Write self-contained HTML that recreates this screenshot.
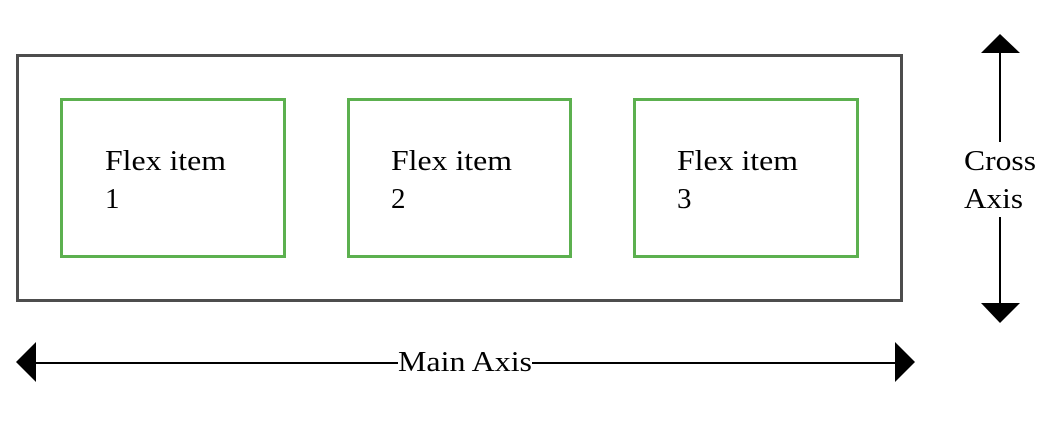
<!DOCTYPE html>
<html><head><style>
body{margin:0;background:#fff;}
svg text{font-family:"Liberation Serif",serif;font-size:29px;fill:#000;}
</style></head><body>
<svg width="1056" height="426" xmlns="http://www.w3.org/2000/svg">
<rect x="17.5" y="55.5" width="884" height="245" fill="none" stroke="#4d4d4d" stroke-width="3"/>
<g fill="none" stroke="#5cb04f" stroke-width="3">
<rect x="61.5" y="99.5" width="223" height="157"/>
<rect x="348.5" y="99.5" width="222" height="157"/>
<rect x="634.5" y="99.5" width="223" height="157"/>
</g>
<text x="105" y="170" textLength="121" lengthAdjust="spacingAndGlyphs">Flex item</text><text x="105" y="208">1</text>
<text x="391" y="170" textLength="121" lengthAdjust="spacingAndGlyphs">Flex item</text><text x="391" y="208">2</text>
<text x="677" y="170" textLength="121" lengthAdjust="spacingAndGlyphs">Flex item</text><text x="677" y="208">3</text>
<line x1="1000" y1="52" x2="1000" y2="142" stroke="#000" stroke-width="2"/>
<line x1="1000" y1="217" x2="1000" y2="305" stroke="#000" stroke-width="2"/>
<polygon points="1000,34 1020,53 981,53" fill="#000"/>
<polygon points="1000,323 1020,303 981,303" fill="#000"/>
<text x="964" y="170" textLength="72" lengthAdjust="spacingAndGlyphs">Cross</text><text x="964" y="208" textLength="59" lengthAdjust="spacingAndGlyphs">Axis</text>
<line x1="34" y1="363" x2="398" y2="363" stroke="#000" stroke-width="2"/>
<line x1="532" y1="363" x2="897" y2="363" stroke="#000" stroke-width="2"/>
<polygon points="16,362 36,342 36,382" fill="#000"/>
<polygon points="915,362 895,342 895,382" fill="#000"/>
<text x="398" y="371" textLength="134" lengthAdjust="spacingAndGlyphs">Main Axis</text>
</svg>
</body></html>
